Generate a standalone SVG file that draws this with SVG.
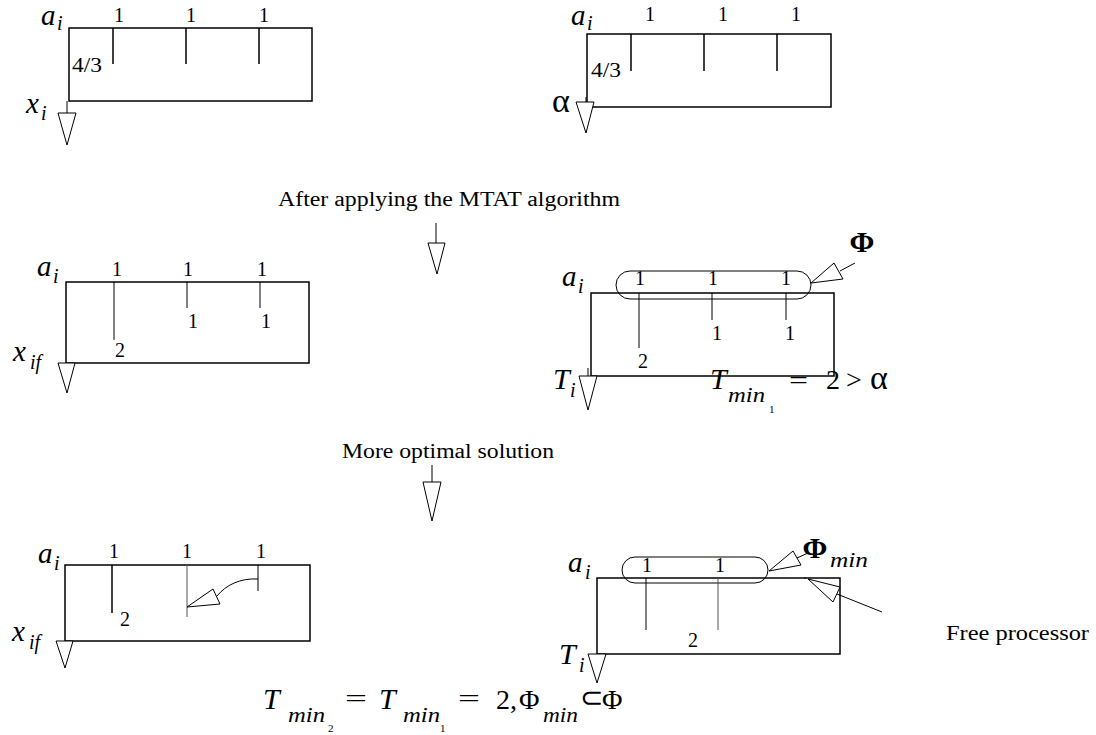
<svg xmlns="http://www.w3.org/2000/svg" width="1096" height="735" viewBox="0 0 1096 735" font-family="'Liberation Serif', Tinos, 'Times New Roman', serif">
<style>
text{font-family:'Liberation Serif',Tinos,'Times New Roman',serif;fill:#000}
.d{font-size:20px;text-anchor:middle}
.f{font-size:20px}
.a{font-size:29px;font-style:italic}
.s{font-size:20px;font-style:italic}
.T{font-size:30px;font-style:italic}
.m{font-size:20px;font-style:italic}
.eq{font-size:26px}
.cap{font-size:20px}
.box{fill:none;stroke:#000;stroke-width:1.5}
.tk{stroke:#000;stroke-width:1.5;fill:none}
.th{stroke:#000;stroke-width:1;fill:none}
.gr{stroke:#555;stroke-width:1;fill:none}
.tri{fill:#fff;stroke:#000;stroke-width:1}
.pill{fill:none;stroke:#000;stroke-width:1}
.phi{font-size:30px;font-weight:bold;text-anchor:middle}
</style>
<rect width="1096" height="735" fill="#fff"/>

<g id="panel1">
<rect class="box" x="69" y="28" width="243" height="73"/>
<path class="tk" d="M113,28V64M186,28V64M259,28V64"/>
<text class="d" x="119" y="22">1</text><text class="d" x="191" y="22">1</text><text class="d" x="264" y="22">1</text>
<text class="f" x="72" y="72" textLength="30" lengthAdjust="spacingAndGlyphs">4/3</text>
<text class="a" x="41" y="25">a</text><text class="s" x="57" y="30">i</text>
<text class="a" x="26" y="113">x</text><text class="s" x="41" y="120">i</text>
<path class="th" d="M67,101V113"/>
<path class="tri" d="M58,113H76L67,145Z"/>
</g>

<g id="panel2">
<rect class="box" x="587" y="34" width="244" height="73"/>
<path class="tk" d="M631,34V71M704,34V71M777,34V71"/>
<text class="d" x="650" y="21">1</text><text class="d" x="723" y="21">1</text><text class="d" x="796" y="21">1</text>
<text class="f" x="591" y="77" textLength="30" lengthAdjust="spacingAndGlyphs">4/3</text>
<text class="a" x="571" y="25">a</text><text class="s" x="587" y="30">i</text>
<text x="552" y="112" style="font-size:34px">α</text>
<path class="th" d="M586,97V102"/>
<path class="tri" d="M576,102H594L586,133Z"/>
</g>

<g id="caption1">
<text class="cap" x="278" y="206" textLength="342" lengthAdjust="spacingAndGlyphs">After applying the MTAT algorithm</text>
<path class="th" d="M436,223V243"/>
<path class="tri" d="M428,243H445L437,274Z"/>
</g>

<g id="panel3">
<rect class="box" x="66" y="282" width="243" height="81"/>
<path class="th" d="M114,282V340M187,282V308M260,282V308"/>
<text class="d" x="117" y="276">1</text><text class="d" x="188" y="276">1</text><text class="d" x="262" y="276">1</text>
<text class="d" x="193" y="328">1</text><text class="d" x="266" y="328">1</text><text class="d" x="120" y="357">2</text>
<text class="a" x="37" y="276">a</text><text class="s" x="53" y="283">i</text>
<text class="a" x="13" y="361">x</text><text class="s" x="30" y="369">if</text>
<path class="tri" d="M58,363H75L67,393Z"/>
</g>

<g id="panel4">
<rect class="box" x="591" y="293" width="243" height="83"/>
<rect class="pill" x="616" y="271" width="195" height="28" rx="14"/>
<path class="th" d="M639,293V348M712,293V320M786,293V320"/>
<text class="d" x="640" y="285">1</text><text class="d" x="713" y="285">1</text><text class="d" x="786" y="285">1</text>
<text class="d" x="717" y="340">1</text><text class="d" x="790" y="340">1</text><text class="d" x="643" y="368">2</text>
<text class="a" x="562" y="286">a</text><text class="s" x="578" y="293">i</text>
<text class="T" x="553" y="389">T</text><text class="s" x="570" y="397">i</text>
<path class="th" d="M588,368V376"/>
<path class="tri" d="M579,376H597L588,410Z"/>
<path class="th" d="M855,263L840,271"/>
<path class="tri" d="M811,283L834,263L843,279Z"/>
<text class="phi" x="862" y="252">Φ</text>
<text class="T" x="710" y="389">T</text>
<text class="m" x="728" y="402" textLength="37" lengthAdjust="spacingAndGlyphs">min</text>
<text x="769" y="413" style="font-size:11px">1</text>
<text class="eq" x="789" y="389" textLength="19" lengthAdjust="spacingAndGlyphs">=</text>
<text x="826" y="389" style="font-size:28px">2</text>
<text x="846" y="389" style="font-size:28px">&gt;</text>
<text x="870" y="389" style="font-size:34px">α</text>
</g>

<g id="caption2">
<text class="cap" x="342" y="458" textLength="212" lengthAdjust="spacingAndGlyphs">More optimal solution</text>
<path class="th" d="M432,465V482"/>
<path class="tri" d="M423,482H441L432,521Z"/>
</g>

<g id="panel5">
<rect class="box" x="65" y="565" width="245" height="76"/>
<path class="tk" d="M112,565V613"/>
<path class="gr" d="M187,565V617"/>
<path class="th" d="M258,565V591"/>
<text class="d" x="114" y="558">1</text><text class="d" x="187" y="558">1</text><text class="d" x="261" y="558">1</text>
<text class="d" x="125" y="626">2</text>
<path class="th" d="M258,579C240,578 226,585 217,596"/>
<path class="tri" d="M187,607L213,589L220,604Z"/>
<text class="a" x="38" y="563">a</text><text class="s" x="54" y="570">i</text>
<text class="a" x="12" y="641">x</text><text class="s" x="29" y="649">if</text>
<path class="tri" d="M56,641H73L65,668Z"/>
</g>

<g id="panel6">
<rect class="box" x="597" y="578" width="243" height="76"/>
<rect class="pill" x="622" y="557" width="146" height="26" rx="13"/>
<path class="th" d="M646,578V630"/>
<path class="gr" d="M718,578V630"/>
<text class="d" x="647" y="572">1</text><text class="d" x="720" y="572">1</text>
<text class="d" x="693" y="647">2</text>
<text class="a" x="568" y="572">a</text><text class="s" x="585" y="579">i</text>
<text class="T" x="559" y="664">T</text><text class="s" x="579" y="672">i</text>
<path class="tri" d="M588,654H606L597,683Z"/>
<path class="th" d="M797,558L808,553"/>
<path class="tri" d="M769,571L793,551L801,565Z"/>
<text class="phi" x="815" y="558">Φ</text>
<text class="m" x="830" y="567" textLength="38" lengthAdjust="spacingAndGlyphs">min</text>
<path class="th" d="M882,612L837,594"/>
<path class="tri" d="M808,579L833,602L840,587Z"/>
<circle cx="805" cy="578" r="0.8" fill="#000"/>
<text class="cap" x="946" y="640" textLength="143" lengthAdjust="spacingAndGlyphs">Free processor</text>
</g>

<g id="formula">
<text class="T" x="263" y="709">T</text>
<text class="m" x="288" y="722" textLength="37" lengthAdjust="spacingAndGlyphs">min</text>
<text x="328" y="732" style="font-size:11px">2</text>
<text class="eq" x="345" y="707" textLength="22" lengthAdjust="spacingAndGlyphs">=</text>
<text class="T" x="379" y="709">T</text>
<text class="m" x="403" y="722" textLength="37" lengthAdjust="spacingAndGlyphs">min</text>
<text x="440" y="732" style="font-size:11px">1</text>
<text class="eq" x="458" y="707" textLength="22" lengthAdjust="spacingAndGlyphs">=</text>
<text x="496" y="709" style="font-size:28px">2,</text>
<text x="519" y="709" style="font-size:28px">Φ</text>
<text class="m" x="543" y="722" textLength="35" lengthAdjust="spacingAndGlyphs">min</text>
<text x="580" y="707" style="font-size:28px">⊂</text>
<text x="602" y="709" style="font-size:28px">Φ</text>
</g>
</svg>
